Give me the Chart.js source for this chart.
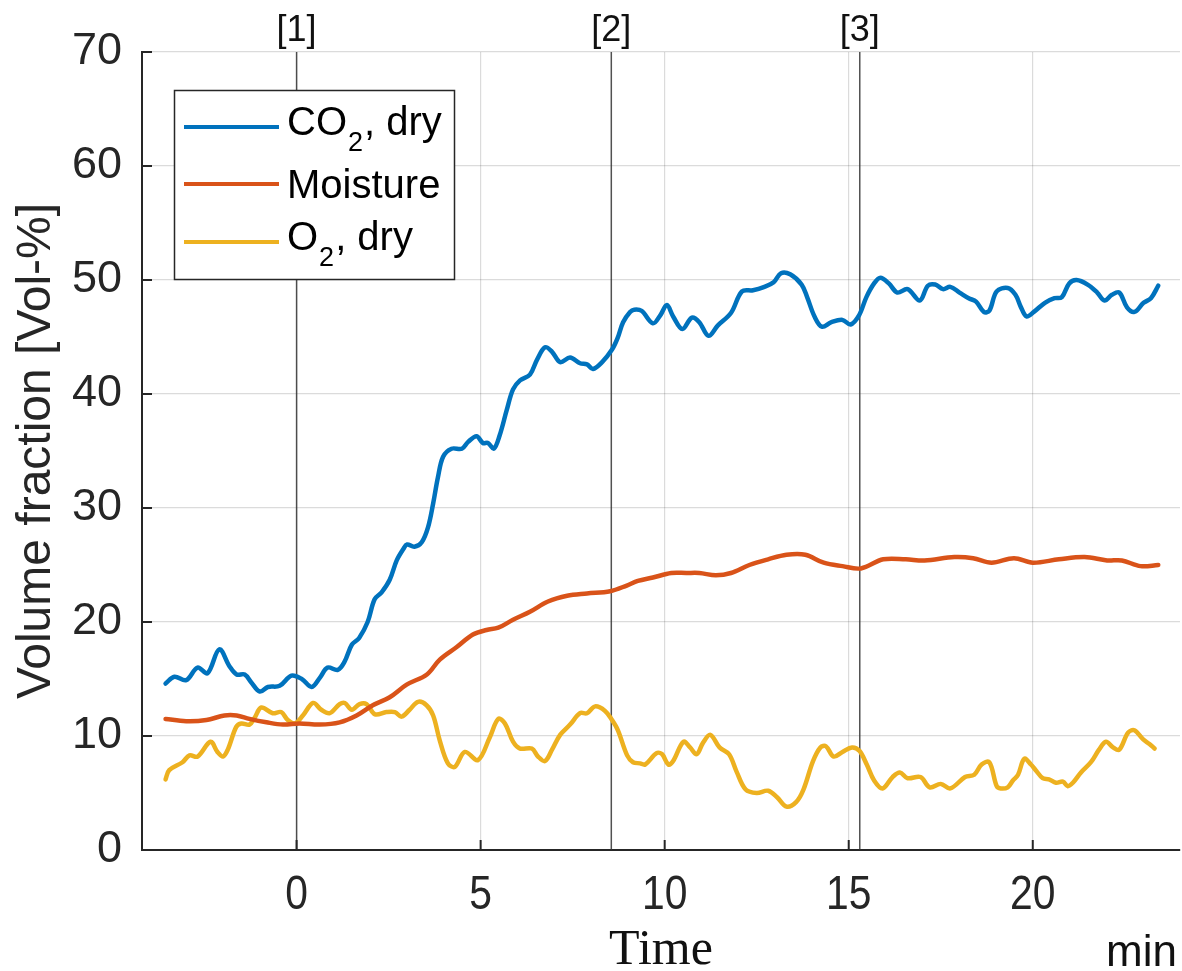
<!DOCTYPE html>
<html>
<head>
<meta charset="utf-8">
<script src="https://cdn.jsdelivr.net/npm/chart.js@4"></script>
<style>
  body { margin: 0; background: #fff; }
</style>
</head>
<body>
<canvas id="chart" width="1182" height="971"></canvas>
<script>
// values (time in min, volume fraction in Vol-%)
const co2Time = [-3.56, -3.32, -3.0, -2.69, -2.42, -2.1, -1.82, -1.63, -1.41, -1.23, -1.0, -0.78, -0.46, -0.14, 0.14, 0.41, 0.63, 0.84, 1.12, 1.3, 1.5, 1.7, 1.93, 2.12, 2.31, 2.53, 2.72, 2.9, 3.0, 3.2, 3.4, 3.57, 3.71, 3.84, 3.98, 4.21, 4.49, 4.66, 4.89, 5.06, 5.2, 5.36, 5.52, 5.71, 5.88, 6.07, 6.34, 6.53, 6.75, 6.94, 7.16, 7.43, 7.7, 7.89, 8.05, 8.3, 8.57, 8.72, 8.87, 9.06, 9.17, 9.37, 9.68, 9.88, 10.06, 10.23, 10.48, 10.74, 10.94, 11.19, 11.44, 11.8, 12.1, 12.4, 12.71, 12.96, 13.16, 13.41, 13.72, 13.87, 14.07, 14.27, 14.53, 14.83, 15.05, 15.28, 15.48, 15.69, 15.86, 16.09, 16.32, 16.6, 16.93, 17.15, 17.35, 17.56, 17.76, 18.01, 18.26, 18.46, 18.67, 18.82, 19.02, 19.32, 19.53, 19.68, 19.83, 20.03, 20.33, 20.59, 20.79, 20.99, 21.19, 21.49, 21.75, 21.95, 22.15, 22.35, 22.56, 22.76, 23.01, 23.21, 23.41]
const co2Values = [14.6, 15.2, 14.9, 16.0, 15.5, 17.6, 16.1, 15.4, 15.4, 14.7, 13.9, 14.3, 14.4, 15.3, 15.0, 14.3, 15.1, 16.0, 15.8, 16.5, 18.0, 18.6, 20.0, 22.0, 22.6, 23.7, 25.4, 26.4, 26.8, 26.6, 27.0, 28.3, 30.4, 32.7, 34.5, 35.2, 35.2, 35.8, 36.3, 35.7, 35.7, 35.2, 36.4, 38.6, 40.4, 41.2, 41.7, 43.0, 44.1, 43.7, 42.8, 43.2, 42.7, 42.6, 42.2, 42.8, 43.9, 44.9, 46.3, 47.2, 47.4, 47.3, 46.2, 46.9, 47.8, 46.8, 45.7, 46.7, 46.3, 45.1, 46.0, 47.1, 49.0, 49.1, 49.4, 49.8, 50.6, 50.5, 49.6, 48.5, 46.8, 45.9, 46.3, 46.5, 46.1, 46.9, 48.5, 49.7, 50.2, 49.7, 48.9, 49.2, 48.2, 49.5, 49.6, 49.2, 49.4, 48.9, 48.4, 48.1, 47.2, 47.3, 49.0, 49.3, 48.7, 47.6, 46.8, 47.2, 48.0, 48.4, 48.5, 49.7, 50.0, 49.6, 48.9, 48.2, 48.7, 48.9, 47.6, 47.2, 48.0, 48.4, 49.5]

const moistTime = [-3.56, -3.0, -2.45, -1.96, -1.63, -1.28, -0.82, -0.37, 0.08, 0.63, 1.17, 1.63, 2.07, 2.53, 2.99, 3.54, 3.89, 4.35, 4.79, 5.16, 5.48, 5.88, 6.34, 6.83, 7.35, 7.89, 8.52, 8.97, 9.27, 9.68, 10.18, 10.59, 10.94, 11.39, 11.8, 12.3, 12.81, 13.31, 13.82, 14.32, 14.83, 15.33, 15.94, 16.55, 17.06, 17.87, 18.38, 18.88, 19.49, 20.0, 20.71, 21.41, 22.02, 22.42, 22.93, 23.41]
const moistValues = [11.5, 11.3, 11.4, 11.8, 11.8, 11.5, 11.2, 11.0, 11.1, 11.0, 11.2, 11.8, 12.7, 13.4, 14.5, 15.4, 16.7, 17.8, 18.9, 19.3, 19.5, 20.2, 20.9, 21.8, 22.3, 22.5, 22.7, 23.2, 23.6, 23.9, 24.3, 24.3, 24.3, 24.1, 24.3, 25.0, 25.5, 25.9, 25.9, 25.2, 24.9, 24.7, 25.5, 25.5, 25.4, 25.7, 25.6, 25.2, 25.6, 25.2, 25.5, 25.7, 25.4, 25.4, 24.9, 25.0]

const o2Time = [-3.56, -3.46, -3.1, -2.91, -2.69, -2.34, -2.15, -2.0, -1.87, -1.64, -1.5, -1.28, -1.14, -0.96, -0.65, -0.42, -0.24, -0.05, 0.17, 0.45, 0.67, 0.9, 1.17, 1.31, 1.5, 1.71, 1.9, 2.13, 2.44, 2.67, 2.85, 3.07, 3.3, 3.53, 3.71, 3.89, 4.11, 4.3, 4.57, 4.93, 5.25, 5.48, 5.66, 5.88, 6.07, 6.39, 6.56, 6.75, 6.94, 7.16, 7.43, 7.7, 7.89, 8.11, 8.38, 8.57, 8.73, 8.98, 9.14, 9.33, 9.47, 9.78, 9.93, 10.1, 10.23, 10.51, 10.69, 10.87, 11.04, 11.24, 11.49, 11.75, 11.95, 12.2, 12.5, 12.81, 13.06, 13.31, 13.57, 13.77, 14.03, 14.23, 14.38, 14.59, 14.83, 15.09, 15.29, 15.49, 15.69, 15.92, 16.19, 16.39, 16.6, 16.95, 17.2, 17.5, 17.76, 18.16, 18.41, 18.61, 18.82, 19.02, 19.13, 19.32, 19.46, 19.6, 19.77, 19.95, 20.08, 20.27, 20.44, 20.63, 20.82, 20.95, 21.09, 21.31, 21.58, 21.8, 21.99, 22.18, 22.35, 22.59, 22.76, 23.0, 23.17, 23.31]
const o2Values = [6.2, 7.0, 7.7, 8.3, 8.2, 9.5, 8.6, 8.2, 8.8, 10.8, 11.1, 11.0, 11.6, 12.5, 12.0, 12.1, 11.4, 11.1, 11.8, 12.9, 12.3, 12.0, 12.8, 12.9, 12.3, 12.8, 12.8, 11.9, 12.1, 12.1, 11.7, 12.3, 13.0, 12.7, 11.8, 9.6, 7.6, 7.3, 8.6, 7.9, 9.9, 11.5, 11.1, 9.5, 8.9, 8.9, 8.2, 7.8, 8.8, 10.1, 11.0, 12.0, 12.0, 12.6, 12.2, 11.4, 10.5, 8.3, 7.7, 7.6, 7.5, 8.5, 8.4, 7.5, 7.8, 9.5, 9.0, 8.4, 9.4, 10.1, 9.0, 8.4, 6.9, 5.3, 5.0, 5.2, 4.6, 3.8, 4.2, 5.3, 7.8, 9.0, 9.1, 8.2, 8.6, 9.0, 8.7, 7.5, 6.1, 5.4, 6.4, 6.8, 6.3, 6.4, 5.5, 5.8, 5.4, 6.4, 6.6, 7.5, 7.7, 5.6, 5.4, 5.5, 6.1, 6.6, 8.0, 7.5, 7.0, 6.3, 6.2, 5.9, 6.0, 5.6, 5.9, 6.8, 7.7, 8.8, 9.5, 9.0, 8.8, 10.3, 10.5, 9.7, 9.3, 8.9]

const seriesNames = ['CO₂, dry', 'Moisture', 'O₂, dry']
const seriesColors = ['#0072BD', '#D95319', '#EDB120']
const xTicks = [0, 5, 10, 15, 20]
const yTicks = [0, 10, 20, 30, 40, 50, 60, 70]
const eventTimes = [0, 8.55, 15.3]
const eventLabels = ['[1]', '[2]', '[3]']

const sans = "'Liberation Sans', Arial, Helvetica, sans-serif"
Chart.defaults.font.family = sans
Chart.defaults.color = '#262626'

function toPoints(ts, vs) {
    return ts.map((t, i) => ({ x: t, y: vs[i] }))
}

// text with a subscript "2" (CO₂, O₂)
function drawSubText(ctx, text, x, y) {
    const parts = text.split('₂')
    ctx.font = '40px ' + sans
    ctx.fillText(parts[0], x, y)
    x += ctx.measureText(parts[0]).width
    if (parts.length > 1) {
        ctx.font = '27px ' + sans
        ctx.fillText('2', x + 1, y + 16)
        x += ctx.measureText('2').width + 2
        ctx.font = '40px ' + sans
        ctx.fillText(parts[1], x, y)
    }
}

const extras = {
    id: 'extras',
    beforeDatasetsDraw(chart) {
        const { ctx, chartArea: a, scales: { x } } = chart
        ctx.save()
        ctx.strokeStyle = 'rgba(50,50,50,0.85)'
        ctx.lineWidth = 1.5
        eventTimes.forEach(t => {
            const px = x.getPixelForValue(t)
            ctx.beginPath()
            ctx.moveTo(px, a.top)
            ctx.lineTo(px, a.bottom)
            ctx.stroke()
        })
        ctx.restore()
    },
    afterDraw(chart) {
        const { ctx, chartArea: a, scales: { x, y } } = chart
        ctx.save()

        // inner tick marks
        ctx.strokeStyle = '#262626'
        ctx.lineWidth = 2
        yTicks.forEach(v => {
            const py = y.getPixelForValue(v)
            ctx.beginPath(); ctx.moveTo(a.left, py); ctx.lineTo(a.left + 10, py); ctx.stroke()
        })
        xTicks.forEach(v => {
            const px = x.getPixelForValue(v)
            ctx.beginPath(); ctx.moveTo(px, a.bottom); ctx.lineTo(px, a.bottom - 10); ctx.stroke()
        })

        // x tick labels (narrow)
        ctx.fillStyle = '#262626'
        ctx.textAlign = 'center'
        ctx.textBaseline = 'alphabetic'
        ctx.font = '48px ' + sans
        xTicks.forEach(v => {
            ctx.save()
            ctx.translate(x.getPixelForValue(v), a.bottom + 59)
            ctx.scale(0.85, 1)
            ctx.fillText(String(v), 0, 0)
            ctx.restore()
        })

        // event labels above the plot
        ctx.fillStyle = '#111'
        ctx.font = '36px ' + sans
        eventTimes.forEach((t, i) => {
            ctx.fillText(eventLabels[i], x.getPixelForValue(t), 41)
        })

        // axis label and unit
        ctx.font = "50px 'Liberation Serif', 'Times New Roman', serif"
        ctx.fillText('Time', 661, 964)
        ctx.textAlign = 'right'
        ctx.font = '44px ' + sans
        ctx.fillText('min', 1177, 966)

        // legend box
        ctx.fillStyle = '#fff'
        ctx.fillRect(174, 90, 280, 189)
        ctx.strokeStyle = '#262626'
        ctx.lineWidth = 1.5
        ctx.strokeRect(174.5, 90.5, 280, 189)
        const rows = [127, 184, 242]
        const bases = [135, 198, 250]
        ctx.textAlign = 'left'
        chart.data.datasets.forEach((ds, i) => {
            ctx.strokeStyle = ds.borderColor
            ctx.lineWidth = 4
            ctx.beginPath(); ctx.moveTo(184, rows[i]); ctx.lineTo(279, rows[i]); ctx.stroke()
            ctx.fillStyle = '#000'
            drawSubText(ctx, ds.label, 287, bases[i])
        })
        ctx.restore()
    }
}

new Chart(document.getElementById('chart'), {
    type: 'line',
    data: {
        datasets: [
            { label: seriesNames[0], data: toPoints(co2Time, co2Values), borderColor: seriesColors[0] },
            { label: seriesNames[1], data: toPoints(moistTime, moistValues), borderColor: seriesColors[1] },
            { label: seriesNames[2], data: toPoints(o2Time, o2Values), borderColor: seriesColors[2] }
        ]
    },
    options: {
        responsive: false,
        animation: false,
        layout: { padding: { top: 52, right: 2, left: 0, bottom: 0 } },
        elements: {
            point: { radius: 0 },
            line: { borderWidth: 4.5, tension: 0.35, fill: false, borderCapStyle: 'round', borderJoinStyle: 'round' }
        },
        plugins: { legend: { display: false }, tooltip: { enabled: false } },
        scales: {
            x: {
                type: 'linear',
                min: -4.2,
                max: 24,
                afterBuildTicks: s => { s.ticks = xTicks.map(v => ({ value: v })) },
                afterFit: s => { s.height = 121 },
                ticks: { display: false },
                grid: { color: 'rgba(0,0,0,0.14)', lineWidth: 1.2, drawTicks: false },
                border: { color: '#262626', width: 2 }
            },
            y: {
                min: 0,
                max: 70,
                afterBuildTicks: s => { s.ticks = yTicks.map(v => ({ value: v })) },
                afterFit: s => { s.width = 142 },
                ticks: { padding: 20, color: '#262626', font: { size: 45 } },
                grid: { color: 'rgba(0,0,0,0.14)', lineWidth: 1.2, drawTicks: false },
                border: { color: '#262626', width: 2 },
                title: {
                    display: true,
                    text: 'Volume fraction [Vol-%]',
                    color: '#262626',
                    font: { size: 48 },
                    padding: { top: 8, bottom: 0 }
                }
            }
        }
    },
    plugins: [extras]
})
</script>
</body>
</html>
